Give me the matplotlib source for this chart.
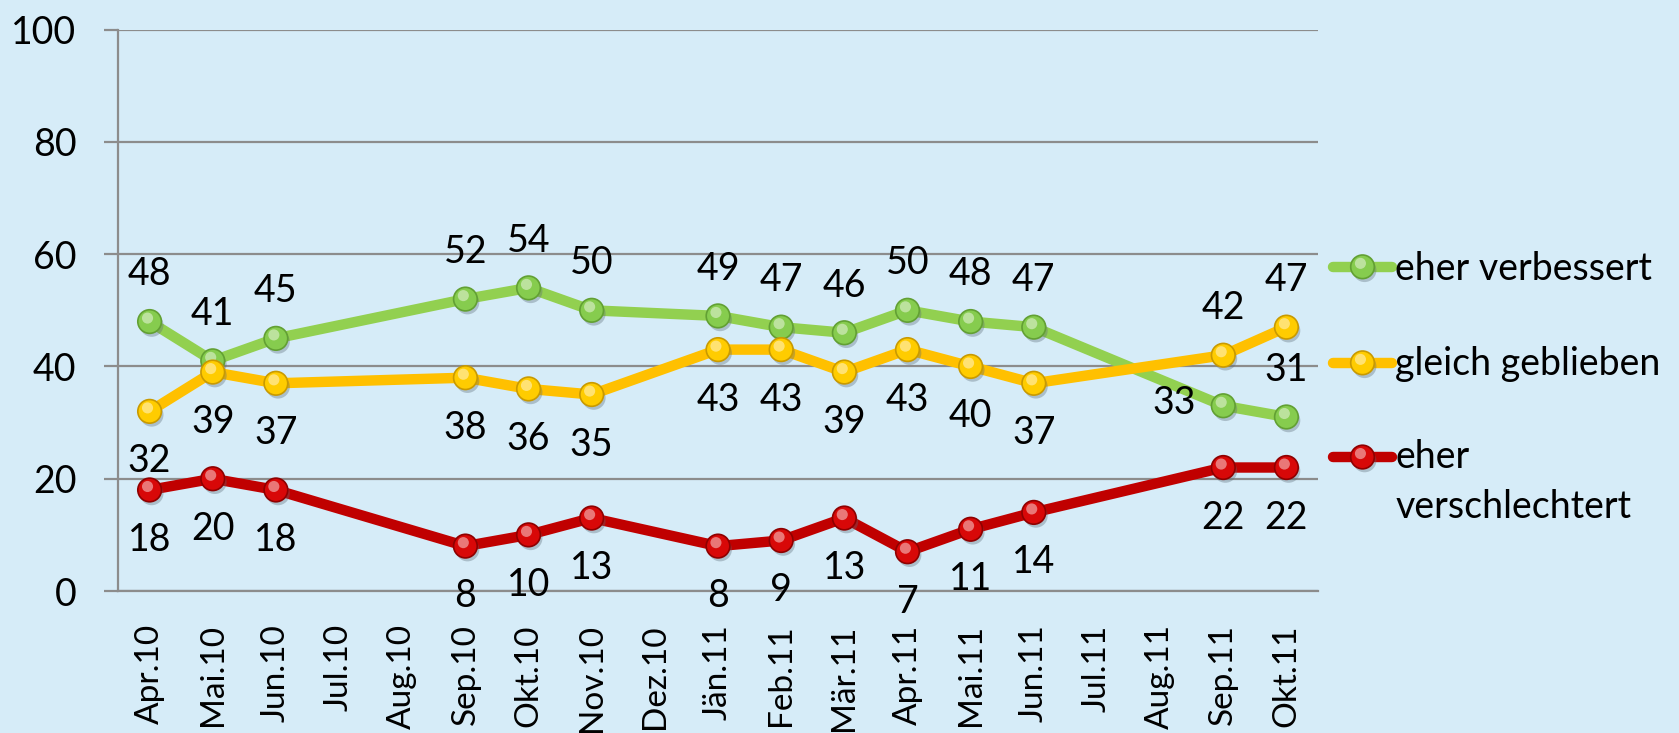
import matplotlib
matplotlib.use("Agg")
import numpy as np
import matplotlib.pyplot as plt
import matplotlib.patheffects as pe
from matplotlib.lines import Line2D

plt.rcParams['font.family'] = ['Lato', 'DejaVu Sans']

months = ["Apr.10", "Mai.10", "Jun.10", "Jul.10", "Aug.10", "Sep.10", "Okt.10",
          "Nov.10", "Dez.10", "Jän.11", "Feb.11", "Mär.11", "Apr.11", "Mai.11",
          "Jun.11", "Jul.11", "Aug.11", "Sep.11", "Okt.11"]
verbessert = [48, 41, 45, None, None, 52, 54, 50, None, 49, 47, 46, 50, 48, 47, None, None, 33, 31]
gleich = [32, 39, 37, None, None, 38, 36, 35, None, 43, 43, 39, 43, 40, 37, None, None, 42, 47]
verschlechtert = [18, 20, 18, None, None, 8, 10, 13, None, 8, 9, 13, 7, 11, 14, None, None, 22, 22]
series_names = ["eher verbessert", "gleich geblieben", "eher\nverschlechtert"]

BG = "#D6ECF8"
GRID = "#8C8C8C"
line_colors = ["#92D050", "#FFC000", "#C00000"]
face_colors = ["#86CC4E", "#FFCC00", "#D80808"]
edge_colors = ["#62A033", "#C99A00", "#8E0000"]
high_colors = ["#D8F5B8", "#FFF2A0", "#FF7A7A"]
FS = 27

# label placement (offset in points) per series; exceptions by month
default_off = [(0, 34), (0, -36), (0, -36)]
special_off = {(0, "Sep.11"): (-35, 2), (1, "Sep.11"): (0, 34), (1, "Okt.11"): (0, 34)}

fig = plt.figure(figsize=(16.79, 7.33), dpi=100)
fig.patch.set_facecolor(BG)
ax = fig.add_axes([0.0703, 0.1937, 0.7147, 0.7659])
ax.set_facecolor(BG)

x = np.arange(len(months))
ax.set_xlim(-0.5, len(months) - 0.5)
ax.set_ylim(0, 100)
ax.set_yticks(np.arange(0, 101, 20))
ax.yaxis.grid(True, color=GRID, linewidth=1.6)
ax.set_axisbelow(True)
for s in ["top", "right"]:
    ax.spines[s].set_visible(False)
ax.spines["left"].set_color(GRID)
ax.spines["left"].set_linewidth(1.6)
ax.spines["bottom"].set_color(GRID)
ax.spines["bottom"].set_linewidth(1.6)
ax.tick_params(axis="y", length=10, width=1.6, color=GRID, pad=20, labelsize=FS)
ax.tick_params(axis="x", length=0, pad=24, labelsize=24)
ax.set_xticks(x)
ax.set_xticklabels(months, rotation=90)

shadow = [pe.SimplePatchShadow(offset=(1.5, -2.5), shadow_rgbFace="#5a6a75", alpha=0.35), pe.Normal()]
highlight = [pe.SimplePatchShadow(offset=(-1.5, 2.5), shadow_rgbFace="white", alpha=0.45, rho=1.0)]


def marker_kw(i, size=17):
    return dict(linestyle="none", marker="o", markersize=size,
                markerfacecolor=face_colors[i], markeredgecolor=edge_colors[i],
                markeredgewidth=1.2)


all_series = [verbessert, gleich, verschlechtert]
for i, vals in enumerate(all_series):
    xs = np.array([xi for xi, v in zip(x, vals) if v is not None])
    ys = np.array([v for v in vals if v is not None], dtype=float)
    ax.plot(xs, ys, color=line_colors[i], linewidth=7.5, solid_capstyle="round",
            solid_joinstyle="round", zorder=3 + i * 0.1, clip_on=False)
    ax.plot(xs, ys, zorder=4 + i * 0.1, clip_on=False, path_effects=shadow, **marker_kw(i))
    ax.plot(xs, ys, linestyle="none", marker="o", markersize=8, markerfacecolor=high_colors[i],
            markeredgecolor="none", zorder=4.05 + i * 0.1, clip_on=False, path_effects=highlight)
    for xi, v in zip(xs, ys):
        off = special_off.get((i, months[xi]), default_off[i])
        ax.annotate(f"{int(v)}", (xi, v), xytext=off, textcoords="offset points",
                    ha="center", va="center", fontsize=FS, color="black", zorder=6)

# legend (manual, right side)
leg_y = [0.636, 0.505, 0.3765]
leg_base = [0.618, 0.4884, 0.3615]
line_step = 50 / 733
for i in range(3):
    fig.add_artist(Line2D([0.794, 0.829], [leg_y[i], leg_y[i]], transform=fig.transFigure,
                          color=line_colors[i], linewidth=7.5, solid_capstyle="round"))
    fig.add_artist(Line2D([0.8115], [leg_y[i]], transform=fig.transFigure,
                          path_effects=shadow, **marker_kw(i)))
    fig.add_artist(Line2D([0.8115], [leg_y[i]], transform=fig.transFigure, linestyle="none",
                          marker="o", markersize=8, markerfacecolor=high_colors[i],
                          markeredgecolor="none", path_effects=highlight))
    for k, part in enumerate(series_names[i].split("\n")):
        fig.text(0.831, leg_base[i] - k * line_step, part, fontsize=FS, ha="left",
                 va="baseline")

fig.savefig("out.png", dpi=100, facecolor=BG)
